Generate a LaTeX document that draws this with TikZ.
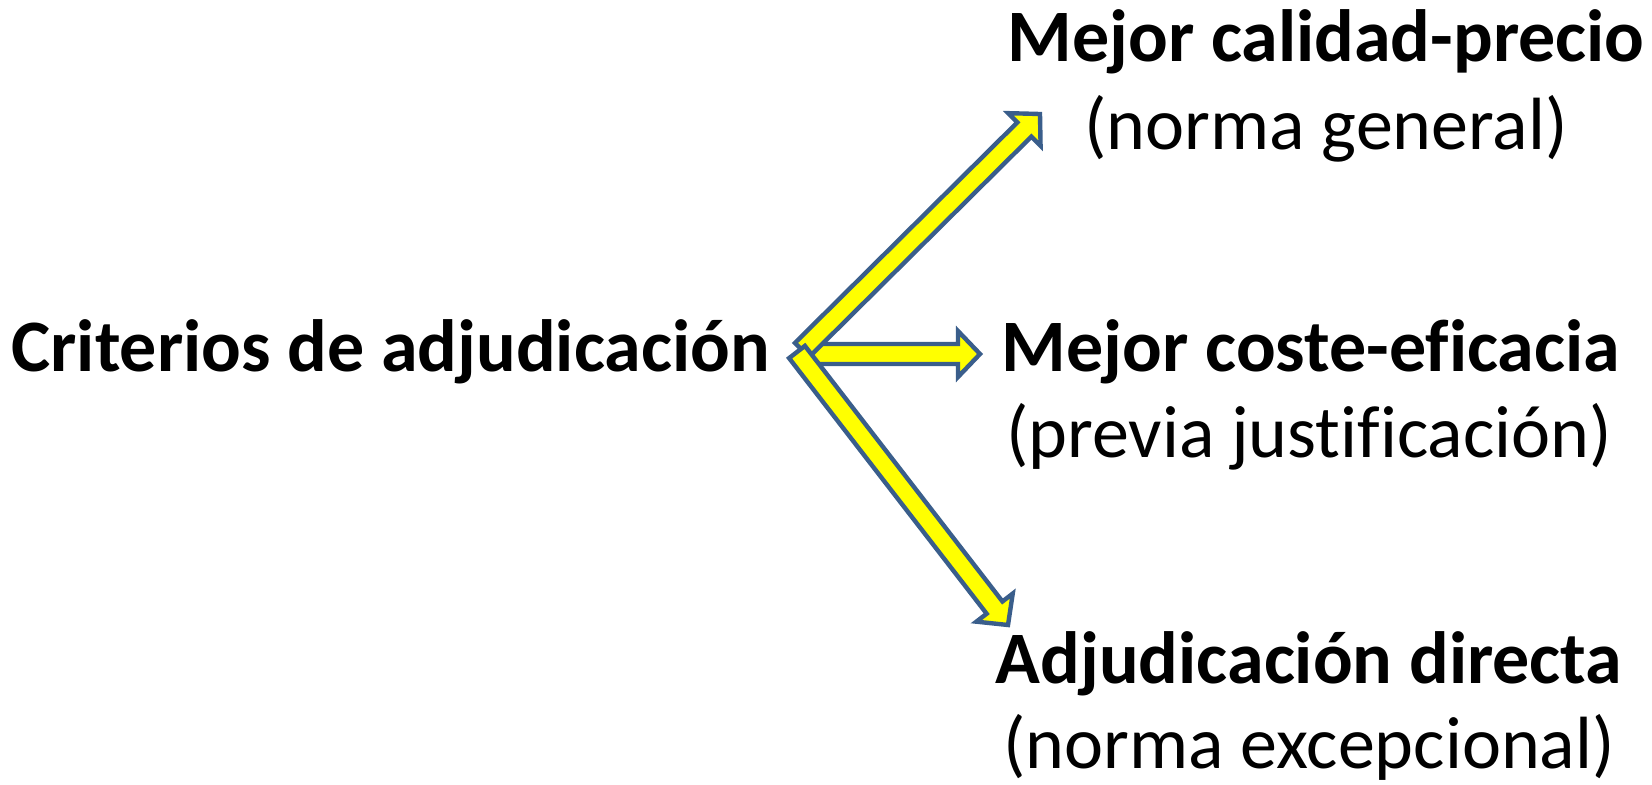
\documentclass[tikz,border=0pt]{standalone}
\usepackage{fontspec}
\setmainfont{Carlito}[Ligatures=NoCommon]
\usetikzlibrary{calc}
\definecolor{arrowline}{HTML}{3A5E8B}
\definecolor{arrowfill}{HTML}{FFFF00}
\tikzset{
  arrowbody/.style={draw=arrowline, fill=arrowfill, line width=2.2pt, line join=miter},
  headtext/.style={inner sep=0pt, anchor=base, font=\fontsize{37}{44}\selectfont\bfseries},
  subtext/.style={inner sep=0pt, anchor=base, font=\fontsize{37}{44}\selectfont},
}
\newcommand\blockarrow[2]{%
  \path[arrowbody] let \p1=($(#2)-(#1)$), \n1={atan2(\y1,\x1)}, \n2={veclen(\x1,\y1)} in
    [shift={(#1)}, rotate=\n1]
    (0pt,-5pt) -- ({\n2*1pt-11pt},-5pt) -- ({\n2*1pt-11pt},-11.5pt) -- ({\n2*1pt},0pt)
    -- ({\n2*1pt-11pt},11.5pt) -- ({\n2*1pt-11pt},5pt) -- (0pt,5pt) -- cycle;}
\begin{document}
\begin{tikzpicture}[x=0.5pt,y=-0.5pt]
\useasboundingbox (0,0) rectangle (1652,785);
% texts
\node[headtext, anchor=base west] (src) at (11,372) {Criterios de adjudicación};
\node[headtext] (t1a) at (1326,62) {Mejor calidad-precio};
\node[subtext] (t1b) at (1326,150) {(norma general)};
\node[headtext] (t2a) at (1311,372) {Mejor coste-eficacia};
\node[subtext] (t2b) at (1309,458) {(previa justificación)};
\node[headtext] (t3a) at (1309,683) {Adjudicación directa};
\node[subtext] (t3b) at (1309,768) {(norma excepcional)};
% arrow end points
\coordinate (a2s) at (808,354);
\coordinate (a2e) at (980,354);
\coordinate (a1s) at (802,350);
\coordinate (a1e) at (1040,114);
\coordinate (a3s) at (797,352);
\coordinate (a3e) at (1008,625);
\blockarrow{a2s}{a2e}
\blockarrow{a1s}{a1e}
\blockarrow{a3s}{a3e}
\end{tikzpicture}
\end{document}
